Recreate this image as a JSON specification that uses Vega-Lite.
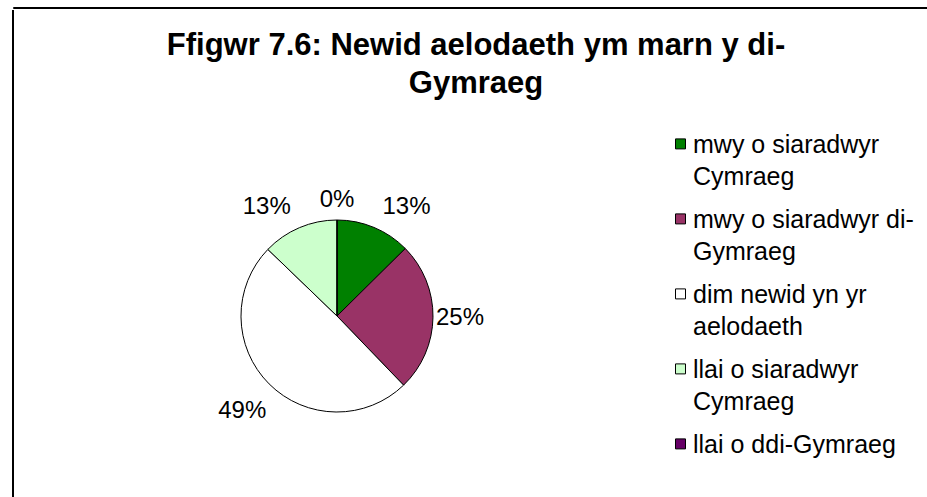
{
  "$schema": "https://vega.github.io/schema/vega-lite/v6.json",
  "background": "white",
  "padding": {"left": 12, "top": 6, "right": 0, "bottom": 0},
  "config": {"style": {"guide-label": {"lineHeight": 32}}},
  "title": {
    "text": ["Ffigwr 7.6: Newid aelodaeth ym marn y di-", "Gymraeg"],
    "orient": "bottom",
    "anchor": "start",
    "align": "center",
    "dx": 463,
    "dy": -568,
    "offset": 0,
    "baseline": "alphabetic",
    "font": "Liberation Sans",
    "fontSize": 31,
    "fontWeight": "bold",
    "lineHeight": 38,
    "color": "#000000",
    "frame": "group"
  },
  "data": {
    "values": [
      {"category": "mwy o siaradwyr Cymraeg", "rank": 1, "share": 0.126},
      {"category": "mwy o siaradwyr di-Gymraeg", "rank": 2, "share": 0.252},
      {"category": "dim newid yn yr aelodaeth", "rank": 3, "share": 0.494},
      {"category": "llai o siaradwyr Cymraeg", "rank": 4, "share": 0.128},
      {"category": "llai o ddi-Gymraeg", "rank": 5, "share": 0.0}
    ]
  },
  "spacing": 0,
  "vconcat": [
    {
      "width": 948,
      "height": 1,
      "data": {"values": []},
      "view": {"stroke": "#000000", "strokeWidth": 1},
      "mark": {"type": "text"},
      "encoding": {"text": {"value": ""}}
    },
    {
      "width": 648,
      "height": 612,
      "view": {"stroke": "#000000", "strokeWidth": 2, "strokeDash": [0, 1908, 612]},
      "encoding": {
        "theta": {"field": "share", "type": "quantitative", "stack": true},
        "order": {"field": "rank", "type": "quantitative", "sort": "ascending"}
      },
      "layer": [
        {
          "mark": {"type": "arc", "outerRadius": 96, "stroke": "#000000", "strokeWidth": 1},
          "encoding": {
            "color": {
              "field": "category",
              "type": "nominal",
              "scale": {
                "domain": ["mwy o siaradwyr Cymraeg", "mwy o siaradwyr di-Gymraeg", "dim newid yn yr aelodaeth", "llai o siaradwyr Cymraeg", "llai o ddi-Gymraeg"],
                "range": ["#008000", "#993366", "#FFFFFF", "#CCFFCC", "#660066"]
              },
              "legend": {
                "orient": "none",
                "legendX": 655,
                "legendY": 133,
                "title": null,
                "padding": 0,
                "symbolType": "M-1,-2.72H1V-0.72H-1Z",
                "symbolSize": 100,
                "symbolStrokeColor": "#000000",
                "symbolStrokeWidth": 1,
                "labelFont": "Liberation Sans",
                "labelFontSize": 25,
                "labelColor": "#000000",
                "labelBaseline": "alphabetic",
                "labelOffset": 0,
                "labelLimit": 400,
                "rowPadding": 17,
                "labelExpr": "datum.label == 'mwy o siaradwyr Cymraeg' ? ['mwy o siaradwyr', 'Cymraeg'] : datum.label == 'mwy o siaradwyr di-Gymraeg' ? ['mwy o siaradwyr di-', 'Gymraeg'] : datum.label == 'dim newid yn yr aelodaeth' ? ['dim newid yn yr', 'aelodaeth'] : datum.label == 'llai o siaradwyr Cymraeg' ? ['llai o siaradwyr', 'Cymraeg'] : datum.label"
              }
            }
          }
        },
        {
          "mark": {"type": "text", "radius": 118, "align": "left", "baseline": "middle", "font": "Liberation Sans", "fontSize": 24, "color": "#000000"},
          "encoding": {
            "detail": {"field": "category", "type": "nominal"},
            "text": {
              "condition": {"test": "datum.rank == 1", "field": "share", "type": "quantitative", "format": ".0%"},
              "value": ""
            }
          }
        },
        {
          "mark": {"type": "text", "radius": 118, "align": "right", "baseline": "middle", "font": "Liberation Sans", "fontSize": 24, "color": "#000000"},
          "encoding": {
            "detail": {"field": "category", "type": "nominal"},
            "text": {
              "condition": {"test": "datum.rank == 4", "field": "share", "type": "quantitative", "format": ".0%"},
              "value": ""
            }
          }
        },
        {
          "mark": {"type": "text", "radius": 123, "align": "center", "baseline": "middle", "font": "Liberation Sans", "fontSize": 24, "color": "#000000"},
          "encoding": {
            "detail": {"field": "category", "type": "nominal"},
            "text": {
              "condition": {"test": "datum.rank == 2", "field": "share", "type": "quantitative", "format": ".0%"},
              "value": ""
            }
          }
        },
        {
          "mark": {"type": "text", "radius": 116, "align": "center", "baseline": "middle", "font": "Liberation Sans", "fontSize": 24, "color": "#000000"},
          "encoding": {
            "detail": {"field": "category", "type": "nominal"},
            "text": {
              "condition": {"test": "datum.rank == 5", "field": "share", "type": "quantitative", "format": ".0%"},
              "value": ""
            }
          }
        },
        {
          "mark": {"type": "text", "radius": 134, "align": "center", "baseline": "middle", "font": "Liberation Sans", "fontSize": 24, "color": "#000000"},
          "encoding": {
            "detail": {"field": "category", "type": "nominal"},
            "text": {
              "condition": {"test": "datum.rank == 3", "field": "share", "type": "quantitative", "format": ".0%"},
              "value": ""
            }
          }
        }
      ]
    }
  ]
}
